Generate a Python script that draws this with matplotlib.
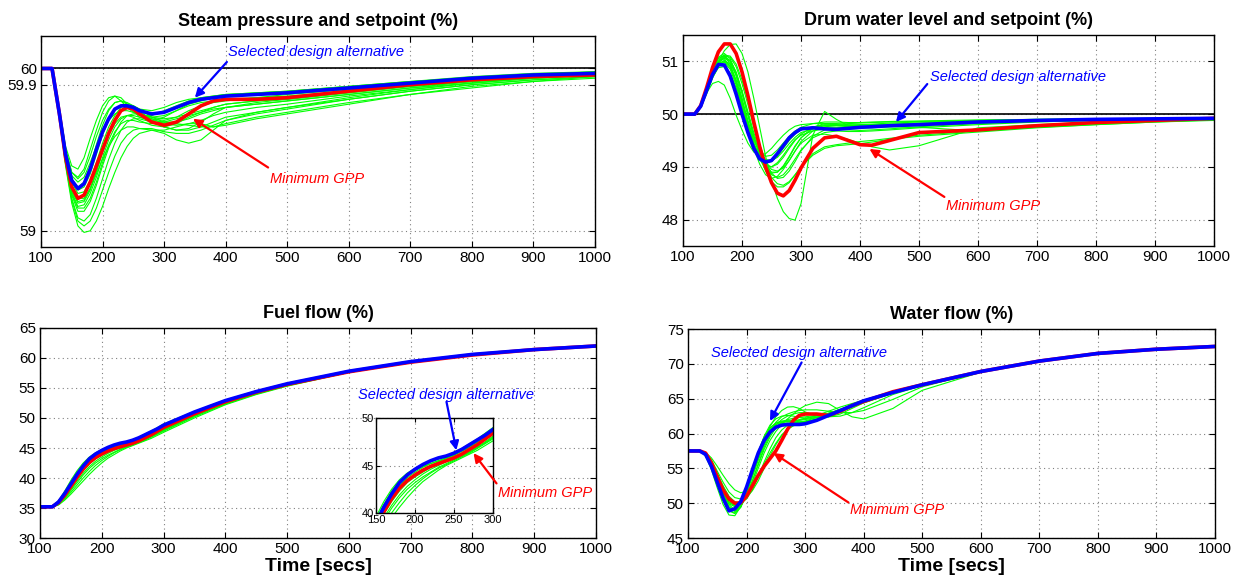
import numpy as np
import matplotlib
matplotlib.use('Agg')
from matplotlib import pyplot as plt

plt.rcParams['font.family'] = ['Liberation Sans', 'DejaVu Sans']

#-----------------------------
# Steam pressure (%)
t_sp = [100, 118, 130, 140, 150, 160, 170, 180, 190, 200, 210, 220, 230, 240, 250,
        260, 280, 300, 320, 340, 360, 380, 400, 450, 500, 600, 700, 800, 900, 1000]
sp_blue = [60, 60, 59.72, 59.47, 59.31, 59.26, 59.29, 59.38, 59.5, 59.61, 59.69, 59.75, 59.77, 59.77, 59.76,
           59.74, 59.72, 59.73, 59.76, 59.79, 59.81, 59.82, 59.83, 59.84, 59.85, 59.88, 59.91, 59.94, 59.96, 59.97]
sp_red = [60, 60, 59.72, 59.45, 59.27, 59.2, 59.22, 59.3, 59.4, 59.5, 59.6, 59.68, 59.74, 59.76, 59.75,
          59.72, 59.67, 59.65, 59.67, 59.72, 59.77, 59.8, 59.81, 59.81, 59.82, 59.86, 59.9, 59.93, 59.95, 59.96]
sp_green = [
    [60, 60, 59.75, 59.52, 59.4, 59.38, 59.45, 59.57, 59.68, 59.77, 59.82, 59.83, 59.8, 59.76, 59.73,
     59.71, 59.71, 59.74, 59.77, 59.8, 59.82, 59.83, 59.84, 59.85, 59.86, 59.89, 59.92, 59.95, 59.97, 59.98],
    [60, 60, 59.74, 59.5, 59.36, 59.33, 59.38, 59.5, 59.62, 59.73, 59.8, 59.83, 59.82, 59.78, 59.74,
     59.7, 59.68, 59.7, 59.74, 59.78, 59.8, 59.82, 59.83, 59.84, 59.85, 59.88, 59.91, 59.94, 59.96, 59.97],
    [60, 60, 59.73, 59.48, 59.32, 59.27, 59.3, 59.4, 59.53, 59.65, 59.74, 59.79, 59.8, 59.78, 59.75,
     59.72, 59.7, 59.71, 59.74, 59.77, 59.79, 59.8, 59.81, 59.82, 59.83, 59.86, 59.9, 59.93, 59.95, 59.97],
    [60, 60, 59.71, 59.44, 59.25, 59.17, 59.18, 59.25, 59.36, 59.48, 59.59, 59.68, 59.74, 59.77, 59.77,
     59.75, 59.7, 59.67, 59.67, 59.69, 59.72, 59.74, 59.76, 59.78, 59.8, 59.84, 59.88, 59.92, 59.94, 59.96],
    [60, 60, 59.71, 59.43, 59.22, 59.12, 59.12, 59.18, 59.28, 59.4, 59.51, 59.6, 59.67, 59.71, 59.72,
     59.72, 59.69, 59.66, 59.65, 59.66, 59.68, 59.71, 59.73, 59.76, 59.78, 59.83, 59.87, 59.91, 59.94, 59.96],
    [60, 60, 59.7, 59.42, 59.2, 59.08, 59.06, 59.1, 59.2, 59.32, 59.44, 59.54, 59.62, 59.67, 59.69,
     59.69, 59.67, 59.64, 59.62, 59.62, 59.64, 59.67, 59.7, 59.73, 59.76, 59.81, 59.86, 59.9, 59.93, 59.95],
    [60, 60, 59.7, 59.4, 59.17, 59.03, 58.99, 59.0, 59.06, 59.15, 59.26, 59.36, 59.45, 59.52, 59.57,
     59.6, 59.62, 59.6, 59.56, 59.54, 59.56, 59.62, 59.68, 59.73, 59.76, 59.82, 59.87, 59.91, 59.94, 59.96],
    [60, 60, 59.72, 59.46, 59.28, 59.2, 59.2, 59.26, 59.35, 59.44, 59.52, 59.58, 59.62, 59.64, 59.64,
     59.63, 59.62, 59.62, 59.64, 59.66, 59.66, 59.64, 59.66, 59.7, 59.73, 59.79, 59.84, 59.88, 59.92, 59.94],
    [60, 60, 59.73, 59.49, 59.34, 59.3, 59.33, 59.42, 59.52, 59.61, 59.68, 59.72, 59.74, 59.74, 59.73,
     59.72, 59.7, 59.69, 59.7, 59.72, 59.74, 59.76, 59.78, 59.8, 59.82, 59.86, 59.89, 59.92, 59.95, 59.97],
    [60, 60, 59.72, 59.46, 59.3, 59.23, 59.24, 59.31, 59.42, 59.54, 59.64, 59.71, 59.76, 59.78, 59.77,
     59.74, 59.68, 59.64, 59.62, 59.63, 59.67, 59.72, 59.76, 59.79, 59.81, 59.85, 59.89, 59.92, 59.95, 59.97],
    [60, 60, 59.74, 59.5, 59.36, 59.32, 59.36, 59.46, 59.58, 59.68, 59.75, 59.79, 59.8, 59.79, 59.77,
     59.75, 59.74, 59.76, 59.79, 59.81, 59.82, 59.83, 59.84, 59.85, 59.86, 59.89, 59.92, 59.94, 59.96, 59.98],
    [60, 60, 59.72, 59.45, 59.26, 59.18, 59.19, 59.26, 59.37, 59.49, 59.59, 59.66, 59.7, 59.71, 59.7,
     59.68, 59.65, 59.64, 59.66, 59.7, 59.73, 59.76, 59.78, 59.8, 59.81, 59.85, 59.89, 59.92, 59.95, 59.97],
    [60, 60, 59.71, 59.43, 59.23, 59.14, 59.14, 59.2, 59.3, 59.42, 59.53, 59.61, 59.66, 59.68, 59.68,
     59.67, 59.66, 59.67, 59.69, 59.71, 59.73, 59.75, 59.76, 59.78, 59.8, 59.84, 59.88, 59.91, 59.94, 59.96],
    [60, 60, 59.7, 59.41, 59.19, 59.06, 59.03, 59.06, 59.14, 59.25, 59.36, 59.46, 59.54, 59.59, 59.62,
     59.63, 59.63, 59.61, 59.6, 59.6, 59.62, 59.65, 59.68, 59.72, 59.75, 59.81, 59.86, 59.9, 59.93, 59.95],
    [60, 60, 59.73, 59.48, 59.31, 59.25, 59.27, 59.35, 59.47, 59.59, 59.68, 59.74, 59.77, 59.78, 59.76,
     59.73, 59.69, 59.68, 59.7, 59.74, 59.77, 59.79, 59.8, 59.82, 59.84, 59.87, 59.9, 59.93, 59.95, 59.97],
    [60, 60, 59.71, 59.44, 59.24, 59.15, 59.16, 59.23, 59.33, 59.45, 59.56, 59.64, 59.69, 59.71, 59.71,
     59.7, 59.68, 59.67, 59.66, 59.65, 59.64, 59.64, 59.65, 59.69, 59.72, 59.78, 59.84, 59.89, 59.92, 59.95],
]
sp_setpoint = 60

#-----------------------------
# Drum water level (%)
t_lv = [100, 120, 130, 140, 150, 160, 170, 180, 190, 200, 210, 220, 230, 240, 250, 260, 270,
        280, 290, 300, 320, 340, 360, 380, 400, 420, 450, 500, 600, 700, 800, 900, 1000]
lv_blue = [50, 50, 50.15, 50.45, 50.75, 50.94, 50.93, 50.72, 50.38, 50.0, 49.65, 49.35, 49.15, 49.09, 49.12, 49.25, 49.4,
           49.55, 49.65, 49.72, 49.74, 49.72, 49.71, 49.73, 49.75, 49.76, 49.78, 49.8, 49.85, 49.88, 49.9, 49.91, 49.92]
lv_red = [50, 50, 50.16, 50.5, 50.88, 51.18, 51.33, 51.33, 51.15, 50.8, 50.35, 49.85, 49.38, 49.0, 48.7, 48.5, 48.45,
          48.55, 48.75, 48.98, 49.35, 49.55, 49.58, 49.5, 49.42, 49.41, 49.5, 49.65, 49.7, 49.78, 49.84, 49.88, 49.92]
lv_green = [
    [50, 50, 50.12, 50.38, 50.7, 51.0, 51.2, 51.32, 51.33, 51.15, 50.8, 50.3, 49.75, 49.2, 48.75, 48.4, 48.15,
     48.02, 47.99, 48.3, 49.6, 50.05, 49.9, 49.78, 49.76, 49.76, 49.78, 49.8, 49.83, 49.86, 49.88, 49.9, 49.92],
    [50, 50, 50.14, 50.42, 50.7, 50.88, 50.9, 50.78, 50.5, 50.12, 49.72, 49.35, 49.05, 48.85, 48.78, 48.82, 48.95,
     49.12, 49.3, 49.45, 49.6, 49.62, 49.58, 49.52, 49.45, 49.38, 49.32, 49.4, 49.74, 49.8, 49.85, 49.89, 49.92],
    [50, 50, 50.15, 50.4, 50.58, 50.62, 50.55, 50.3, 49.98, 49.7, 49.45, 49.28, 49.22, 49.25, 49.35, 49.48, 49.6,
     49.7, 49.77, 49.8, 49.82, 49.82, 49.81, 49.82, 49.83, 49.84, 49.85, 49.86, 49.88, 49.9, 49.91, 49.92, 49.93],
    [50, 50, 50.15, 50.45, 50.78, 51.0, 51.05, 50.9, 50.6, 50.22, 49.82, 49.45, 49.2, 49.05, 49.0, 49.05, 49.18,
     49.35, 49.5, 49.62, 49.75, 49.8, 49.8, 49.79, 49.8, 49.81, 49.83, 49.85, 49.87, 49.89, 49.9, 49.91, 49.92],
    [50, 50, 50.16, 50.48, 50.82, 51.08, 51.15, 51.05, 50.78, 50.4, 49.98, 49.58, 49.25, 49.0, 48.85, 48.8, 48.85,
     48.98, 49.15, 49.32, 49.55, 49.65, 49.68, 49.67, 49.67, 49.68, 49.7, 49.74, 49.8, 49.85, 49.88, 49.9, 49.92],
    [50, 50, 50.14, 50.45, 50.75, 50.98, 51.08, 51.02, 50.8, 50.45, 50.05, 49.65, 49.3, 49.0, 48.8, 48.68, 48.65,
     48.72, 48.85, 49.0, 49.25, 49.38, 49.42, 49.45, 49.48, 49.5, 49.54, 49.6, 49.68, 49.75, 49.8, 49.85, 49.88],
    [50, 50, 50.13, 50.42, 50.72, 50.95, 51.02, 50.92, 50.65, 50.28, 49.88, 49.52, 49.3, 49.2, 49.22, 49.32, 49.45,
     49.58, 49.68, 49.75, 49.82, 49.85, 49.85, 49.84, 49.84, 49.85, 49.86, 49.87, 49.89, 49.9, 49.91, 49.92, 49.93],
    [50, 50, 50.14, 50.44, 50.75, 50.98, 51.1, 51.08, 50.9, 50.58, 50.18, 49.75, 49.38, 49.1, 48.95, 48.92, 48.98,
     49.12, 49.3, 49.48, 49.68, 49.76, 49.78, 49.76, 49.74, 49.74, 49.76, 49.79, 49.84, 49.87, 49.89, 49.91, 49.92],
    [50, 50, 50.15, 50.46, 50.8, 51.05, 51.12, 51.0, 50.72, 50.3, 49.85, 49.45, 49.15, 48.95, 48.88, 48.9, 49.02,
     49.2, 49.4, 49.55, 49.72, 49.78, 49.79, 49.78, 49.77, 49.77, 49.78, 49.8, 49.84, 49.87, 49.89, 49.91, 49.92],
    [50, 50, 50.14, 50.43, 50.72, 50.92, 50.98, 50.85, 50.55, 50.15, 49.75, 49.4, 49.15, 49.02, 49.0, 49.08, 49.22,
     49.38, 49.52, 49.6, 49.68, 49.72, 49.74, 49.75, 49.75, 49.76, 49.76, 49.75, 49.68, 49.76, 49.84, 49.88, 49.91],
    [50, 50, 50.15, 50.47, 50.82, 51.06, 51.1, 50.95, 50.62, 50.2, 49.78, 49.42, 49.18, 49.08, 49.1, 49.2, 49.35,
     49.5, 49.62, 49.7, 49.76, 49.78, 49.78, 49.78, 49.79, 49.8, 49.81, 49.83, 49.86, 49.88, 49.9, 49.91, 49.92],
    [50, 50, 50.13, 50.4, 50.68, 50.9, 51.0, 50.96, 50.75, 50.4, 49.98, 49.58, 49.25, 49.02, 48.9, 48.9, 49.0,
     49.18, 49.38, 49.55, 49.75, 49.82, 49.82, 49.8, 49.79, 49.79, 49.8, 49.82, 49.85, 49.88, 49.9, 49.91, 49.92],
    [50, 50, 50.14, 50.44, 50.76, 51.0, 51.12, 51.1, 50.95, 50.65, 50.25, 49.82, 49.42, 49.1, 48.88, 48.78, 48.8,
     48.92, 49.1, 49.3, 49.58, 49.7, 49.72, 49.7, 49.69, 49.7, 49.72, 49.76, 49.82, 49.86, 49.89, 49.91, 49.92],
    [50, 50, 50.15, 50.45, 50.76, 50.96, 51.0, 50.88, 50.6, 50.24, 49.85, 49.5, 49.26, 49.14, 49.12, 49.18, 49.3,
     49.44, 49.56, 49.65, 49.72, 49.74, 49.74, 49.74, 49.75, 49.76, 49.77, 49.79, 49.83, 49.87, 49.89, 49.91, 49.92],
    [50, 50, 50.14, 50.43, 50.74, 50.97, 51.06, 51.0, 50.78, 50.42, 50.0, 49.58, 49.2, 48.92, 48.72, 48.62, 48.62,
     48.7, 48.85, 49.0, 49.22, 49.35, 49.4, 49.42, 49.44, 49.47, 49.52, 49.58, 49.66, 49.74, 49.8, 49.85, 49.89],
]
lv_setpoint = 50

#-----------------------------
# Fuel flow (%)
t_fu = [100, 120, 130, 140, 150, 160, 170, 180, 190, 200, 210, 220, 230, 240, 250,
        260, 270, 280, 290, 300, 350, 400, 450, 500, 600, 700, 800, 900, 1000]
fu_blue = [35.2, 35.2, 36.0, 37.4, 39.0, 40.6, 42.0, 43.2, 44.0, 44.6, 45.1, 45.5, 45.8, 46.0, 46.3,
           46.7, 47.2, 47.7, 48.2, 48.8, 51.0, 52.9, 54.4, 55.7, 57.8, 59.4, 60.6, 61.4, 62.0]
fu_red = [35.2, 35.2, 35.9, 37.1, 38.6, 40.1, 41.5, 42.6, 43.4, 44.0, 44.5, 44.9, 45.2, 45.5, 45.8,
          46.2, 46.7, 47.2, 47.8, 48.4, 50.7, 52.7, 54.3, 55.6, 57.7, 59.3, 60.5, 61.4, 62.0]
fu_green = [
    [35.2, 35.2, 36.2, 37.8, 39.6, 41.2, 42.5, 43.5, 44.2, 44.7, 45.1, 45.4, 45.7, 46.0, 46.4,
     46.8, 47.3, 47.8, 48.4, 49.0, 51.1, 53.0, 54.5, 55.7, 57.8, 59.4, 60.6, 61.4, 62.0],
    [35.2, 35.2, 36.1, 37.6, 39.3, 40.9, 42.3, 43.3, 44.0, 44.6, 45.0, 45.4, 45.7, 46.0, 46.3,
     46.7, 47.2, 47.7, 48.3, 48.9, 51.0, 52.9, 54.4, 55.7, 57.8, 59.4, 60.6, 61.4, 62.0],
    [35.2, 35.2, 35.8, 37.0, 38.4, 39.9, 41.2, 42.3, 43.2, 43.8, 44.3, 44.8, 45.2, 45.5, 45.8,
     46.1, 46.5, 47.0, 47.5, 48.1, 50.5, 52.6, 54.2, 55.5, 57.7, 59.3, 60.5, 61.4, 62.0],
    [35.2, 35.2, 35.6, 36.5, 37.6, 38.8, 40.0, 41.1, 42.1, 42.9, 43.6, 44.2, 44.7, 45.1, 45.5,
     45.9, 46.3, 46.8, 47.3, 47.8, 50.2, 52.3, 54.0, 55.4, 57.6, 59.3, 60.5, 61.4, 62.0],
    [35.2, 35.2, 35.5, 36.3, 37.3, 38.4, 39.5, 40.6, 41.6, 42.5, 43.3, 43.9, 44.5, 45.0, 45.4,
     45.8, 46.2, 46.6, 47.1, 47.6, 50.0, 52.2, 53.9, 55.3, 57.6, 59.2, 60.5, 61.4, 62.0],
    [35.2, 35.2, 35.9, 37.2, 38.8, 40.4, 41.8, 42.9, 43.7, 44.3, 44.8, 45.2, 45.5, 45.8, 46.1,
     46.5, 46.9, 47.4, 48.0, 48.6, 50.9, 52.8, 54.4, 55.6, 57.8, 59.4, 60.6, 61.4, 62.0],
    [35.2, 35.2, 35.7, 36.8, 38.1, 39.5, 40.8, 41.9, 42.8, 43.5, 44.1, 44.6, 45.0, 45.4, 45.7,
     46.0, 46.4, 46.9, 47.4, 48.0, 50.4, 52.5, 54.1, 55.5, 57.7, 59.3, 60.5, 61.4, 62.0],
    [35.2, 35.2, 36.0, 37.5, 39.1, 40.7, 42.1, 43.2, 44.0, 44.5, 44.9, 45.2, 45.5, 45.8, 46.1,
     46.5, 47.0, 47.5, 48.1, 48.7, 50.9, 52.8, 54.4, 55.6, 57.8, 59.4, 60.6, 61.4, 62.0],
    [35.2, 35.2, 35.6, 36.6, 37.9, 39.2, 40.5, 41.6, 42.5, 43.2, 43.8, 44.3, 44.8, 45.2, 45.6,
     46.0, 46.4, 46.9, 47.4, 47.9, 50.3, 52.4, 54.0, 55.4, 57.6, 59.3, 60.5, 61.4, 62.0],
    [35.2, 35.2, 35.8, 37.1, 38.6, 40.2, 41.6, 42.7, 43.5, 44.1, 44.6, 45.0, 45.4, 45.7, 46.0,
     46.3, 46.8, 47.3, 47.8, 48.4, 50.7, 52.7, 54.3, 55.6, 57.7, 59.3, 60.5, 61.4, 62.0],
]

#-----------------------------
# Water flow (%)
t_wa = [100, 120, 130, 140, 150, 160, 170, 180, 190, 200, 210, 220, 230, 240, 250, 260,
        270, 280, 290, 300, 320, 340, 360, 380, 400, 450, 500, 600, 700, 800, 900, 1000]
wa_blue = [57.5, 57.5, 57.0, 55.3, 53.0, 50.7, 48.9, 49.2, 50.2, 52.3, 54.8, 57.2, 59.0, 60.2, 60.9, 61.2,
           61.3, 61.3, 61.3, 61.4, 61.9, 62.6, 63.3, 64.0, 64.7, 65.9, 67.0, 68.9, 70.4, 71.5, 72.1, 72.5]
wa_red = [57.5, 57.5, 57.2, 55.8, 53.8, 51.9, 50.6, 50.0, 50.05, 51.0, 52.5, 54.0, 55.3, 56.4, 57.5, 59.0,
          60.6, 61.9, 62.6, 62.8, 62.8, 62.6, 63.2, 64.0, 64.6, 66.0, 67.0, 68.9, 70.4, 71.5, 72.1, 72.5]
wa_green = [
    [57.5, 57.5, 56.8, 54.8, 52.2, 49.8, 48.3, 48.2, 49.5, 52.0, 54.8, 57.4, 59.5, 60.8, 61.5, 61.8,
     61.9, 61.9, 61.9, 62.0, 62.3, 62.8, 63.4, 64.0, 64.6, 65.9, 67.0, 68.9, 70.4, 71.5, 72.1, 72.5],
    [57.5, 57.5, 57.3, 56.5, 55.3, 54.0, 52.8, 51.9, 51.5, 51.7, 52.6, 54.0, 55.6, 57.2, 58.6, 59.8,
     60.6, 61.1, 61.4, 61.6, 62.0, 62.6, 63.2, 63.9, 64.5, 65.9, 67.0, 68.9, 70.4, 71.5, 72.1, 72.5],
    [57.5, 57.5, 57.0, 55.5, 53.4, 51.3, 49.9, 49.5, 50.4, 52.3, 54.6, 57.0, 59.2, 61.0, 62.4, 63.3,
     63.8, 63.85, 63.6, 63.1, 62.5, 62.4, 62.8, 63.6, 64.4, 65.8, 67.0, 68.9, 70.4, 71.5, 72.1, 72.5],
    [57.5, 57.5, 57.1, 55.8, 53.9, 52.0, 50.5, 49.8, 50.0, 51.0, 52.8, 55.0, 57.2, 59.0, 60.3, 61.3,
     62.1, 62.8, 63.5, 64.0, 64.5, 64.3, 63.3, 62.4, 62.1, 63.6, 66.2, 68.8, 70.4, 71.5, 72.1, 72.5],
    [57.5, 57.5, 57.0, 55.4, 53.2, 51.0, 49.4, 48.8, 49.4, 51.3, 53.8, 56.5, 58.7, 60.2, 61.0, 61.4,
     61.5, 61.5, 61.6, 61.8, 62.3, 62.9, 63.5, 64.1, 64.6, 65.9, 67.0, 68.9, 70.4, 71.5, 72.1, 72.5],
    [57.5, 57.5, 57.2, 56.2, 54.6, 53.0, 51.6, 50.8, 50.6, 50.9, 51.8, 53.2, 55.0, 56.8, 58.4, 59.7,
     60.6, 61.2, 61.5, 61.7, 62.0, 62.5, 63.1, 63.8, 64.4, 65.8, 67.0, 68.9, 70.4, 71.5, 72.1, 72.5],
    [57.5, 57.5, 56.9, 55.1, 52.7, 50.4, 48.9, 48.5, 49.4, 51.6, 54.3, 57.0, 59.3, 60.8, 61.5, 61.7,
     61.7, 61.6, 61.6, 61.7, 62.1, 62.7, 63.4, 64.1, 64.7, 65.9, 67.0, 68.9, 70.4, 71.5, 72.1, 72.5],
    [57.5, 57.5, 57.1, 55.7, 53.6, 51.5, 50.1, 49.6, 50.2, 51.8, 53.9, 56.2, 58.3, 60.0, 61.2, 62.0,
     62.5, 62.8, 63.0, 63.0, 62.7, 62.4, 62.5, 63.0, 63.7, 65.6, 66.9, 68.9, 70.4, 71.5, 72.1, 72.5],
    [57.5, 57.5, 57.0, 55.6, 53.5, 51.4, 49.8, 49.0, 49.5, 51.0, 53.2, 55.7, 58.0, 59.8, 61.0, 61.6,
     61.8, 61.8, 61.7, 61.7, 62.0, 62.6, 63.3, 64.0, 64.6, 65.9, 67.0, 68.9, 70.4, 71.5, 72.1, 72.5],
    [57.5, 57.5, 57.1, 55.9, 54.1, 52.2, 50.7, 49.9, 50.1, 51.3, 53.2, 55.5, 57.7, 59.5, 60.8, 61.6,
     62.0, 62.2, 62.3, 62.4, 62.6, 62.9, 63.4, 64.0, 64.6, 65.9, 67.0, 68.9, 70.4, 71.5, 72.1, 72.5],
    [57.5, 57.5, 57.0, 55.5, 53.3, 51.1, 49.5, 48.9, 49.7, 51.8, 54.4, 57.0, 59.2, 60.6, 61.3, 61.6,
     61.7, 61.8, 61.9, 62.1, 62.6, 63.2, 63.8, 64.3, 64.8, 66.0, 67.1, 68.9, 70.4, 71.5, 72.1, 72.5],
    [57.5, 57.5, 57.2, 56.0, 54.3, 52.5, 51.0, 50.2, 50.0, 50.6, 51.9, 53.8, 55.9, 57.8, 59.4, 60.5,
     61.2, 61.7, 62.0, 62.2, 62.5, 62.9, 63.4, 64.0, 64.6, 65.9, 67.0, 68.9, 70.4, 71.5, 72.1, 72.5],
    [57.5, 57.5, 56.9, 55.2, 52.9, 50.6, 49.0, 48.6, 49.6, 51.8, 54.6, 57.3, 59.6, 61.2, 62.1, 62.5,
     62.6, 62.5, 62.3, 62.2, 62.3, 62.7, 63.3, 64.0, 64.7, 65.9, 67.0, 68.9, 70.4, 71.5, 72.1, 72.5],
    [57.5, 57.5, 57.1, 55.7, 53.7, 51.6, 50.2, 49.7, 50.3, 51.9, 54.0, 56.3, 58.5, 60.3, 61.6, 62.4,
     62.8, 63.1, 63.3, 63.4, 63.4, 63.2, 63.0, 63.0, 63.3, 64.9, 66.7, 68.9, 70.4, 71.5, 72.1, 72.5],
]

GREEN = (0, 1, 0)
RED = (1, 0, 0)
BLUE = (0, 0, 1)
TXT_SEL = 'Selected design alternative'
TXT_GPP = 'Minimum GPP'


def style(ax, size=11):
    ax.grid(True, linestyle=(0, (1, 3)), color='0.5', linewidth=0.8)
    ax.tick_params(direction='in', top=True, right=True, length=4, labelsize=size, pad=3)
    for s in ax.spines.values():
        s.set_linewidth(1.0)


def draw(ax, t, greens, red, blue, setpoint=None):
    if setpoint is not None:
        ax.axhline(setpoint, color='k', lw=1.2)
    for g in greens:
        ax.plot(t, g, color=GREEN, lw=0.8)
    ax.plot(t, red, color=RED, lw=2.6)
    ax.plot(t, blue, color=BLUE, lw=2.6)


def note(ax, txt, col, xy, xytext, textpos, tax=None):
    arr = dict(arrowstyle='-|>', color=col, lw=1.6, mutation_scale=13, shrinkA=0, shrinkB=0)
    tax = ax if tax is None else tax
    ax.annotate('', xy=xy, xytext=xytext, textcoords=tax.transData,
                arrowprops=arr, annotation_clip=False)
    tax.text(textpos[0], textpos[1], txt, color=col, style='italic', fontsize=10.5,
             ha='left', va='center')


fig = plt.figure(figsize=(12.45, 5.8), dpi=100)
ax1 = fig.add_axes([0.0329, 0.5741, 0.4450, 0.3638])
ax2 = fig.add_axes([0.5486, 0.5759, 0.4265, 0.3638])
ax3 = fig.add_axes([0.0321, 0.0724, 0.4466, 0.3621])
ax4 = fig.add_axes([0.5526, 0.0724, 0.4233, 0.3603])
axi = fig.add_axes([0.3020, 0.1155, 0.0940, 0.1638])

xt = np.arange(100, 1001, 100)

# Steam pressure
draw(ax1, t_sp, sp_green, sp_red, sp_blue, sp_setpoint)
ax1.set_xlim(100, 1000); ax1.set_ylim(58.9, 60.2)
ax1.set_xticks(xt); ax1.set_yticks([59, 59.9, 60])
ax1.set_yticklabels(['59', '59.9', '60'])
ax1.set_title('Steam pressure and setpoint (%)', fontweight='bold', fontsize=13, pad=7)
style(ax1)
note(ax1, TXT_SEL, BLUE, (350, 59.82), (402, 60.04), (404, 60.1))
note(ax1, TXT_GPP, RED, (347, 59.69), (469, 59.39), (472, 59.32))

# Drum water level
draw(ax2, t_lv, lv_green, lv_red, lv_blue, lv_setpoint)
ax2.set_xlim(100, 1000); ax2.set_ylim(47.5, 51.5)
ax2.set_xticks(xt); ax2.set_yticks([48, 49, 50, 51])
ax2.set_title('Drum water level and setpoint (%)', fontweight='bold', fontsize=13, pad=7)
style(ax2)
note(ax2, TXT_SEL, BLUE, (461, 49.85), (514, 50.57), (518, 50.7))
note(ax2, TXT_GPP, RED, (416, 49.34), (543, 48.43), (545, 48.25))

# Fuel flow
draw(ax3, t_fu, fu_green, fu_red, fu_blue)
ax3.set_xlim(100, 1000); ax3.set_ylim(30, 65)
ax3.set_xticks(xt); ax3.set_yticks(np.arange(30, 66, 5))
ax3.set_title('Fuel flow (%)', fontweight='bold', fontsize=13, pad=7)
ax3.set_xlabel('Time [secs]', fontweight='bold', fontsize=14, labelpad=1)
style(ax3)

# zoom window on fuel flow
draw(axi, t_fu, fu_green, fu_red, fu_blue)
axi.set_xlim(150, 300); axi.set_ylim(40, 50)
axi.set_xticks([150, 200, 250, 300]); axi.set_yticks([40, 45, 50])
style(axi, size=8)
axi.tick_params(pad=1.5, length=3)
note(axi, TXT_SEL, BLUE, (253, 46.6), (758, 52.7), (615, 53.8), tax=ax3)
note(axi, TXT_GPP, RED, (275, 46.3), (839, 39.1), (842, 37.45), tax=ax3)

# Water flow
draw(ax4, t_wa, wa_green, wa_red, wa_blue)
ax4.set_xlim(100, 1000); ax4.set_ylim(45, 75)
ax4.set_xticks(xt); ax4.set_yticks(np.arange(45, 76, 5))
ax4.set_title('Water flow (%)', fontweight='bold', fontsize=13, pad=7)
ax4.set_xlabel('Time [secs]', fontweight='bold', fontsize=14, labelpad=1)
style(ax4)
note(ax4, TXT_SEL, BLUE, (240, 61.8), (294, 70.2), (140, 71.5))
note(ax4, TXT_GPP, RED, (246, 57.2), (374, 50.1), (377, 49.0))

fig.savefig('out.png', dpi=100)
